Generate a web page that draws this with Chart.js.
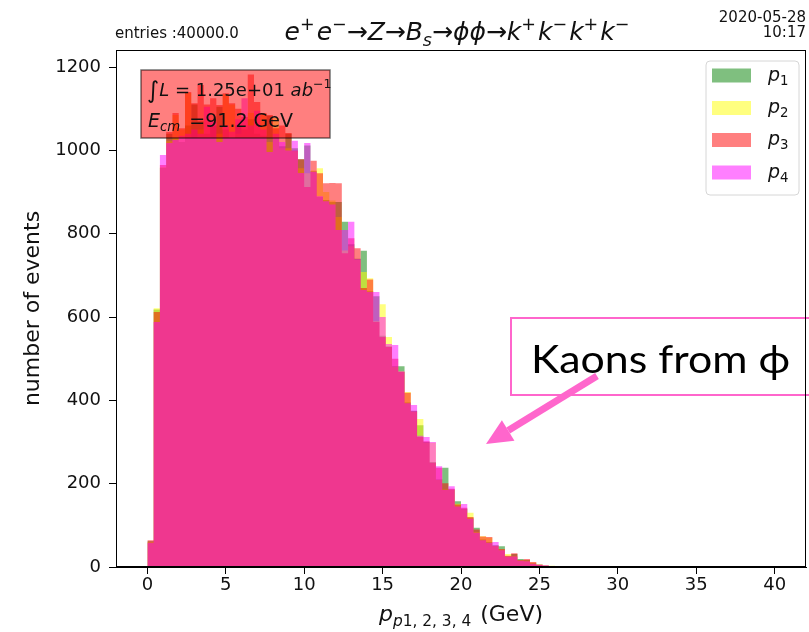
<!DOCTYPE html>
<html>
<head>
<meta charset="utf-8">
<script src="https://cdn.jsdelivr.net/npm/chart.js@4.4.0/dist/chart.umd.min.js"></script>
<style>
  html, body { margin: 0; padding: 0; background: #fff; }
  #wrap { width: 809px; height: 632px; position: relative; }
</style>
</head>
<body>
<div id="wrap"><canvas id="c" width="809" height="632"></canvas></div>
<script>
// Lower edges of the 0.4 GeV momentum bins (last bin is empty and closes the outline)
const binLow = [
  0.0, 0.4, 0.8, 1.2, 1.6, 2.0, 2.4, 2.8, 3.2, 3.6,
  4.0, 4.4, 4.8, 5.2, 5.6, 6.0, 6.4, 6.8, 7.2, 7.6,
  8.0, 8.4, 8.8, 9.2, 9.6, 10.0, 10.4, 10.8, 11.2, 11.6,
  12.0, 12.4, 12.8, 13.2, 13.6, 14.0, 14.4, 14.8, 15.2, 15.6,
  16.0, 16.4, 16.8, 17.2, 17.6, 18.0, 18.4, 18.8, 19.2, 19.6,
  20.0, 20.4, 20.8, 21.2, 21.6, 22.0, 22.4, 22.8, 23.2, 23.6,
  24.0, 24.4, 24.8, 25.2, 25.6, 26.0, 26.4
];

// Kaon momentum spectra, events per bin
const p1Counts = [
  62, 618, 958, 1040, 1030, 1020, 1060, 1110, 1070, 1040,
  1060, 1105, 1050, 1030, 1060, 1050, 1075, 1040, 1035, 1083,
  1030, 1010, 1040, 1005, 979, 1012, 950, 888, 881, 876,
  876, 829, 775, 740, 759, 662, 650, 555, 530, 482,
  482, 395, 375, 340, 300, 252, 210, 238, 186, 158,
  140, 118, 94, 66, 60, 52, 50, 26, 31, 19,
  17, 9, 6, 3, 2, 1, 0
];
const p2Counts = [
  60, 621, 960, 1022, 1085, 1050, 1138, 1030, 1050, 1075,
  1030, 1040, 1135, 1110, 1040, 1060, 1090, 1080, 1088, 1020,
  1078, 1005, 1005, 998, 957, 945, 952, 957, 900, 880,
  840, 760, 770, 737, 708, 693, 590, 631, 552, 480,
  470, 420, 372, 355, 298, 298, 209, 186, 185, 152,
  138, 130, 84, 74, 70, 50, 42, 31, 26, 16,
  15, 11, 7, 4, 3, 2, 0
];
const p3Counts = [
  64, 612, 965, 1044, 1090, 1053, 1140, 1113, 1157, 1110,
  1125, 1109, 1137, 1113, 1100, 1080, 1182, 1116, 1090, 1085,
  1053, 1060, 1042, 1000, 979, 912, 975, 945, 921, 922,
  921, 753, 789, 765, 670, 690, 588, 552, 528, 500,
  468, 418, 374, 312, 302, 250, 238, 201, 188, 150,
  142, 120, 90, 73, 72, 51, 43, 27, 33, 17,
  19, 12, 5, 3, 2, 1, 0
];
const p4Counts = [
  58, 588, 989, 1018, 1025, 1035, 1040, 1050, 1040, 1105,
  1070, 1020, 1060, 1045, 1075, 1125, 1060, 1095, 1050, 996,
  1040, 1020, 1000, 1023, 946, 1018, 949, 890, 878, 870,
  809, 809, 829, 739, 665, 660, 660, 600, 535, 533,
  470, 393, 389, 315, 312, 300, 242, 185, 194, 145,
  151, 116, 82, 64, 58, 60, 40, 25, 25, 15,
  14, 8, 6, 4, 1, 1, 0
];

const seriesNames = ['1', '2', '3', '4'];
const seriesColors = [
  'rgba(0,128,0,0.5)',
  'rgba(255,255,0,0.5)',
  'rgba(255,0,0,0.5)',
  'rgba(255,0,255,0.5)'
];

const xTicks = [0, 5, 10, 15, 20, 25, 30, 35, 40];
const yTicks = [0, 200, 400, 600, 800, 1000, 1200];

const FONT = '"DejaVu Sans", "Liberation Sans", sans-serif';

function toPoints(counts) {
  return binLow.map((x, i) => ({ x: x, y: counts[i] }));
}

// p1 is painted first, p4 last (on top)
const allCounts = [p1Counts, p2Counts, p3Counts, p4Counts];
const datasets = allCounts.map((counts, i) => ({
  label: 'p' + seriesNames[i],
  data: toPoints(counts),
  order: allCounts.length - 1 - i,
  stepped: 'before',
  fill: 'origin',
  backgroundColor: seriesColors[i],
  borderColor: 'rgba(0,0,0,0)',
  borderWidth: 0,
  pointRadius: 0,
  pointHoverRadius: 0,
  tension: 0
}));

// Draw a run of text pieces (italic / superscript / subscript) on one baseline
function pieceSize(p, size) {
  return p.sc ? size * 0.7 : (p.big ? size * 1.3 : size);
}
function richWidth(ctx, parts, size) {
  let w = 0;
  for (const p of parts) {
    ctx.font = (p.it ? 'italic ' : '') + pieceSize(p, size) + 'px ' + FONT;
    w += ctx.measureText(p.t).width + (p.gap || 0);
  }
  return w;
}
function drawRich(ctx, parts, x, y, size, align) {
  const total = richWidth(ctx, parts, size);
  let cx = align === 'center' ? x - total / 2 : (align === 'right' ? x - total : x);
  ctx.textBaseline = 'alphabetic';
  ctx.textAlign = 'left';
  for (const p of parts) {
    ctx.font = (p.it ? 'italic ' : '') + pieceSize(p, size) + 'px ' + FONT;
    let dy = 0;
    if (p.sc === 'sup') dy = -size * 0.42;
    if (p.sc === 'sub') dy = size * 0.22;
    if (p.big) dy = size * 0.1;
    ctx.fillText(p.t, cx, y + dy);
    cx += ctx.measureText(p.t).width + (p.gap || 0);
  }
}

const decorations = {
  id: 'decorations',
  afterDraw(chart) {
    const ctx = chart.ctx;
    const a = chart.chartArea;
    ctx.save();

    ctx.fillStyle = '#111';

    // header line
    ctx.font = '15px ' + FONT;
    ctx.textAlign = 'left';
    ctx.textBaseline = 'alphabetic';
    ctx.fillText('entries :40000.0', 115, 38);

    ctx.font = '15px ' + FONT;
    ctx.textAlign = 'right';
    ctx.fillText('2020-05-28', 806, 22);
    ctx.fillText('10:17', 806, 37);

    const title = [
      { t: 'e', it: 1 }, { t: '+', sc: 'sup', gap: 2 }, { t: 'e', it: 1 }, { t: '\u2212', sc: 'sup' },
      { t: '\u2192' }, { t: 'Z', it: 1 }, { t: '\u2192' }, { t: 'B', it: 1 }, { t: 's', it: 1, sc: 'sub' },
      { t: '\u2192' }, { t: '\u03d5\u03d5', it: 1 }, { t: '\u2192' },
      { t: 'k', it: 1 }, { t: '+', sc: 'sup', gap: 2 }, { t: 'k', it: 1 }, { t: '\u2212', sc: 'sup', gap: 2 },
      { t: 'k', it: 1 }, { t: '+', sc: 'sup', gap: 2 }, { t: 'k', it: 1 }, { t: '\u2212', sc: 'sup' }
    ];
    drawRich(ctx, title, 457, 40, 25, 'center');

    // axis titles
    ctx.save();
    ctx.translate(33, (a.top + a.bottom) / 2);
    ctx.rotate(-Math.PI / 2);
    ctx.font = '22px ' + FONT;
    ctx.textAlign = 'center';
    ctx.textBaseline = 'middle';
    ctx.fillText('number of events', 0, 0);
    ctx.restore();

    drawRich(ctx, [
      { t: 'p', it: 1 }, { t: 'p', it: 1, sc: 'sub' }, { t: '1, 2, 3, 4', sc: 'sub', gap: 2 }, { t: ' (GeV)' }
    ], (a.left + a.right) / 2, 621, 22, 'center');

    // luminosity / energy box
    ctx.fillStyle = 'rgba(255,0,0,0.5)';
    ctx.fillRect(141, 70, 189, 68);
    ctx.strokeStyle = 'rgba(0,0,0,0.55)';
    ctx.lineWidth = 1.5;
    ctx.strokeRect(141, 70, 189, 68);
    ctx.fillStyle = '#111';
    drawRich(ctx, [
      { t: '\u222b', big: 1 }, { t: 'L', it: 1 }, { t: ' = 1.25e+01 ' },
      { t: 'ab', it: 1 }, { t: '\u22121', sc: 'sup' }
    ], 147, 96, 18, 'left');
    drawRich(ctx, [
      { t: 'E', it: 1 }, { t: 'cm', it: 1, sc: 'sub', gap: 3 }, { t: ' =91.2 GeV' }
    ], 148, 127, 19, 'left');

    // legend
    const lx = 706, ly = 61, lw = 93, lh = 134, r = 4;
    ctx.beginPath();
    ctx.moveTo(lx + r, ly);
    ctx.arcTo(lx + lw, ly, lx + lw, ly + lh, r);
    ctx.arcTo(lx + lw, ly + lh, lx, ly + lh, r);
    ctx.arcTo(lx, ly + lh, lx, ly, r);
    ctx.arcTo(lx, ly, lx + lw, ly, r);
    ctx.closePath();
    ctx.fillStyle = 'rgba(255,255,255,0.8)';
    ctx.fill();
    ctx.strokeStyle = '#d6d6d6';
    ctx.lineWidth = 1;
    ctx.stroke();
    const rowY = [75.5, 108, 140, 172.5];
    chart.data.datasets.forEach((ds, i) => {
      ctx.fillStyle = ds.backgroundColor;
      ctx.fillRect(712, rowY[i] - 7, 39, 14);
      ctx.fillStyle = '#111';
      drawRich(ctx, [{ t: 'p', it: 1 }, { t: seriesNames[i], sc: 'sub' }], 768, rowY[i] + 5, 19, 'left');
    });

    // "Kaons from phi" note with arrow
    const pink = '#ff66cc';
    ctx.fillStyle = '#fff';
    ctx.fillRect(511, 318, 300, 77);
    ctx.strokeStyle = pink;
    ctx.lineWidth = 2;
    ctx.strokeRect(511, 318, 300, 77);
    ctx.fillStyle = '#000';
    ctx.font = '38px Lato, "Open Sans", sans-serif';
    ctx.textAlign = 'left';
    ctx.textBaseline = 'alphabetic';
    const note = 'Kaons from \u03d5';
    const sx = 259 / ctx.measureText(note).width;
    ctx.save();
    ctx.translate(531, 373);
    ctx.scale(sx, 1);
    ctx.fillText(note, 0, 0);
    ctx.restore();

    const x0 = 597, y0 = 376, x1 = 486, y1 = 444;
    const ang = Math.atan2(y1 - y0, x1 - x0);
    const headLen = 26, headW = 12;
    const bx = x1 - headLen * Math.cos(ang), by = y1 - headLen * Math.sin(ang);
    ctx.strokeStyle = pink;
    ctx.lineWidth = 7;
    ctx.beginPath();
    ctx.moveTo(x0, y0);
    ctx.lineTo(bx, by);
    ctx.stroke();
    ctx.fillStyle = pink;
    ctx.beginPath();
    ctx.moveTo(x1, y1);
    ctx.lineTo(bx + headW * Math.sin(ang), by - headW * Math.cos(ang));
    ctx.lineTo(bx - headW * Math.sin(ang), by + headW * Math.cos(ang));
    ctx.closePath();
    ctx.fill();

    // frame around the plotting area
    ctx.strokeStyle = '#000';
    ctx.lineWidth = 1;
    ctx.strokeRect(Math.round(a.left) + 0.5, Math.round(a.top) + 0.5,
                   Math.round(a.right - a.left) - 1, Math.round(a.bottom - a.top) - 1);

    ctx.restore();
  }
};

new Chart(document.getElementById('c'), {
  type: 'line',
  data: { datasets: datasets },
  plugins: [decorations],
  options: {
    responsive: false,
    animation: false,
    events: [],
    layout: { padding: { top: 50, right: 3, left: 0, bottom: 0 } },
    plugins: {
      legend: { display: false },
      title: { display: false },
      tooltip: { enabled: false }
    },
    scales: {
      x: {
        type: 'linear',
        min: -2,
        max: 42,
        afterBuildTicks: (s) => { s.ticks = xTicks.map(v => ({ value: v })); },
        afterFit: (s) => { s.height = 65; },
        grid: { display: true, drawOnChartArea: false, drawTicks: true, tickLength: 7, tickColor: '#000', tickWidth: 1 },
        border: { display: true, color: '#000', width: 1 },
        ticks: { color: '#111', font: { family: FONT, size: 18 }, padding: 1, maxRotation: 0, autoSkip: false,
                 callback: (v) => String(v) }
      },
      y: {
        type: 'linear',
        min: 0,
        max: 1241,
        afterBuildTicks: (s) => { s.ticks = yTicks.map(v => ({ value: v })); },
        afterFit: (s) => { s.width = 116; },
        grid: { display: true, drawOnChartArea: false, drawTicks: true, tickLength: 7, tickColor: '#000', tickWidth: 1 },
        border: { display: true, color: '#000', width: 1 },
        ticks: { color: '#111', font: { family: FONT, size: 18 }, padding: 8, autoSkip: false,
                 callback: (v) => String(v) }
      }
    }
  }
});
</script>
</body>
</html>
